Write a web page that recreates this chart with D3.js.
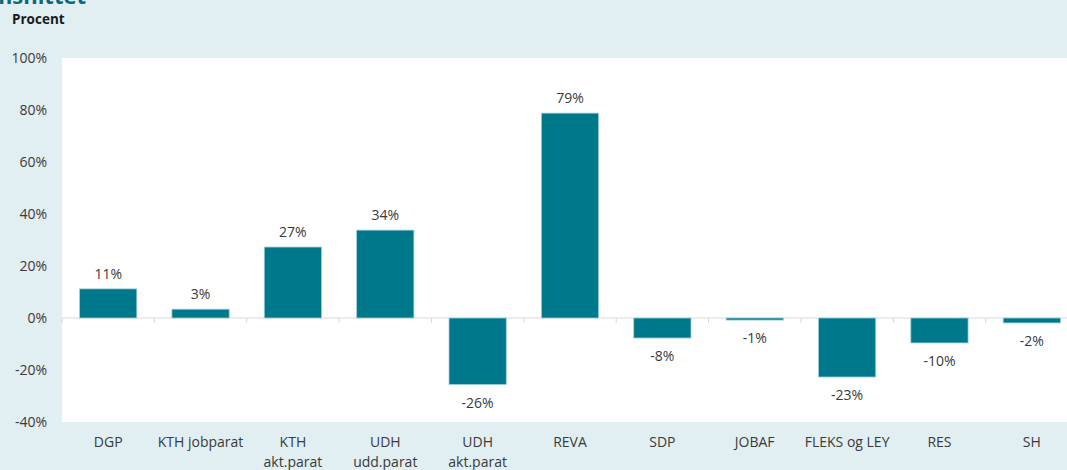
<!DOCTYPE html>
<html>
<head>
<meta charset="utf-8">
<script src="https://cdn.jsdelivr.net/npm/d3@7"></script>
<style>
  html, body { margin: 0; padding: 0; background: #e1eef2; }
  svg { display: block; font-family: "Open Sans", "Noto Sans", sans-serif; }
  text { fill: #3a3a3a; }
</style>
</head>
<body>
<svg width="1067" height="470"></svg>
<script>
const categories = [['DGP'], ['KTH jobparat'], ['KTH', 'akt.parat'], ['UDH', 'udd.parat'], ['UDH', 'akt.parat'],
  ['REVA'], ['SDP'], ['JOBAF'], ['FLEKS og LEY'], ['RES'], ['SH']];
const values = [11.2, 3.4, 27.3, 33.8, -25.6, 78.8, -7.7, -0.8, -22.7, -9.6, -1.9];
const yTicks = [-40, -20, 0, 20, 40, 60, 80, 100];

const svg = d3.select('svg');
const plot = { left: 62, top: 58, bottom: 422, right: 1078 };

// title (mostly cut off above the frame)
svg.append('text')
    .attr('x', 86)
    .attr('y', 4)
    .attr('text-anchor', 'end')
    .style('font-size', '22px')
    .style('font-weight', 'bold')
    .style('fill', '#08697c')
    .text('gennemsnittet');

svg.append('text')
    .attr('x', 12)
    .attr('y', 24)
    .style('font-size', '13.5px')
    .style('font-weight', 'bold')
    .style('fill', '#1a1a1a')
    .text('Procent');

svg.append('rect')
    .attr('x', plot.left)
    .attr('y', plot.top)
    .attr('width', plot.right - plot.left)
    .attr('height', plot.bottom - plot.top)
    .attr('fill', '#fff');

const x = d3.scaleBand()
    .domain(d3.range(categories.length))
    .range([plot.left, plot.right])
    .paddingInner(0.38)
    .paddingOuter(0.19);

const y = d3.scaleLinear()
    .domain([-40, 100])
    .range([plot.bottom, plot.top]);

// y tick labels
svg.append('g').selectAll('text').data(yTicks)
  .enter().append('text')
    .attr('x', 47)
    .attr('y', d => y(d))
    .attr('dy', '0.35em')
    .attr('text-anchor', 'end')
    .style('font-size', '14px')
    .text(d => d + '%');

// zero line with ticks at band boundaries
const zero = y(0);
svg.append('line')
    .attr('x1', plot.left).attr('x2', plot.right)
    .attr('y1', zero).attr('y2', zero)
    .attr('stroke', '#d9d9d9')
    .attr('stroke-width', 1);

const step = x.step();
svg.append('g').selectAll('line').data(d3.range(categories.length + 1))
  .enter().append('line')
    .attr('x1', i => plot.left + i * step)
    .attr('x2', i => plot.left + i * step)
    .attr('y1', zero)
    .attr('y2', zero + 5)
    .attr('stroke', '#d9d9d9');

// bars
svg.append('g').selectAll('rect').data(values)
  .enter().append('rect')
    .attr('x', (d, i) => x(i))
    .attr('y', d => y(Math.max(0, d)))
    .attr('width', x.bandwidth())
    .attr('height', d => Math.abs(y(d) - y(0)))
    .attr('fill', '#00788c')
    .attr('stroke', '#9fd0da')
    .attr('stroke-width', 0.8);

// data labels
svg.append('g').selectAll('text').data(values)
  .enter().append('text')
    .attr('x', (d, i) => x(i) + x.bandwidth() / 2)
    .attr('y', d => d >= 0 ? y(d) - 10 : y(d) + 23)
    .attr('text-anchor', 'middle')
    .style('font-size', '14px')
    .text(d => Math.round(d) + '%');

// category labels
const catG = svg.append('g').selectAll('text').data(categories)
  .enter().append('text')
    .attr('x', (d, i) => x(i) + x.bandwidth() / 2)
    .attr('y', 447)
    .attr('text-anchor', 'middle')
    .style('font-size', '14px');

catG.selectAll('tspan').data(d => d)
  .enter().append('tspan')
    .attr('x', function () { return this.parentNode.getAttribute('x'); })
    .attr('dy', (d, i) => i === 0 ? 0 : 20)
    .text(d => d);
</script>
</body>
</html>
